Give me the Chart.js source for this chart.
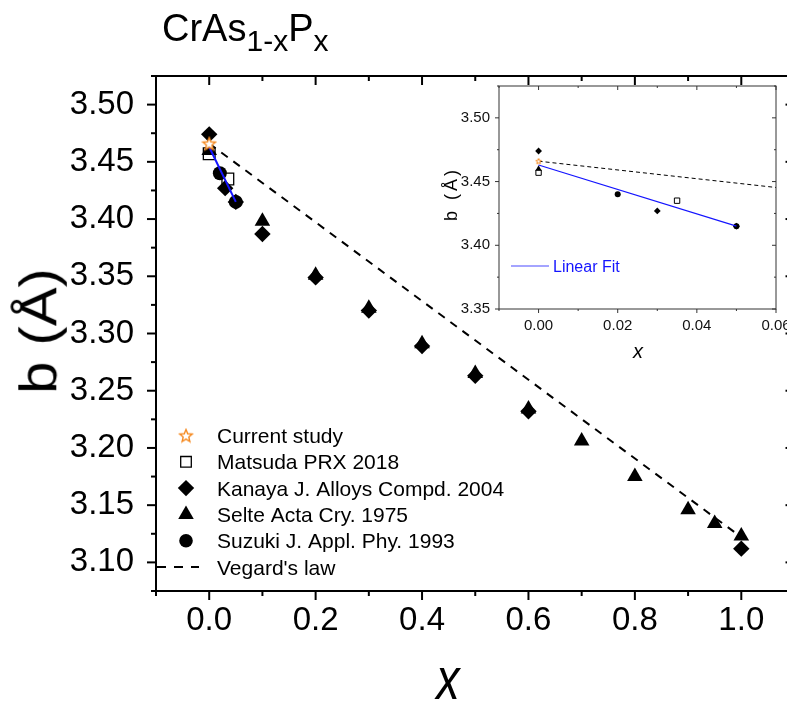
<!DOCTYPE html>
<html>
<head>
<meta charset="utf-8">
<script src="https://cdn.jsdelivr.net/npm/chart.js@4.4.0/dist/chart.umd.min.js"></script>
<style>
body { margin: 0; background: #fff; }
#wrap { position: relative; width: 787px; height: 706px; overflow: hidden; background: #fff; font-family: 'Liberation Sans', Arial, sans-serif; color: #000; }
#main { position: absolute; left: 0; top: 0; }
#insetBox { position: absolute; left: 430px; top: 75px; width: 357px; height: 295px; }
.lbl { position: absolute; white-space: nowrap; line-height: 1; }
#title { left: 162px; top: 9px; font-size: 38px; }
#title sub { font-size: 30px; vertical-align: -10px; line-height: 0; }
#xlab { left: 448px; top: 649px; transform: translateX(-50%) scaleX(0.78); font-size: 60px; font-style: italic; }
#ylab { left: 38px; top: 331px; transform: translate(-50%, -50%) rotate(-90deg) scale(1, 0.9); font-size: 58px; }
#ixlab { left: 638px; top: 341px; transform: translateX(-50%); font-size: 20px; font-style: italic; }
#iylab { left: 451px; top: 194px; transform: translate(-50%, -50%) rotate(-90deg); font-size: 18px; letter-spacing: 3px; }
</style>
</head>
<body>
<div id="wrap">
  <canvas id="main" width="800" height="706"></canvas>
  <div id="insetBox"><canvas id="inset" width="357" height="295"></canvas></div>
  <div class="lbl" id="title">CrAs<sub>1-x</sub>P<sub>x</sub></div>
  <div class="lbl" id="xlab">x</div>
  <div class="lbl" id="ylab">b (Å)</div>
  <div class="lbl" id="ixlab">x</div>
  <div class="lbl" id="iylab">b (Å)</div>
</div>
<script>
// data
var currentX = [0];
var currentY = [3.466];
var matsudaX = [0, 0.035];
var matsudaY = [3.457, 3.435];
var kanayaX = [0, 0.03, 0.05, 0.1, 0.2, 0.3, 0.4, 0.5, 0.6, 1.0];
var kanayaY = [3.474, 3.427, 3.415, 3.387, 3.349, 3.320, 3.289, 3.263, 3.232, 3.112];
var selteX = [0, 0.1, 0.2, 0.3, 0.4, 0.5, 0.6, 0.7, 0.8, 0.9, 0.95, 1.0];
var selteY = [3.460, 3.398, 3.351, 3.322, 3.291, 3.265, 3.234, 3.206, 3.175, 3.146, 3.134, 3.123];
var suzukiX = [0.02, 0.05];
var suzukiY = [3.440, 3.415];
var vegardX = [0, 1.0];
var vegardY = [3.466, 3.122];
var fitX = [0, 0.05];
var fitY = [3.463, 3.415];

var xTicks = [0, 0.2, 0.4, 0.6, 0.8, 1.0];
var yTicks = [3.10, 3.15, 3.20, 3.25, 3.30, 3.35, 3.40, 3.45, 3.50];
var insetXTicks = [0, 0.02, 0.04, 0.06];
var insetYTicks = [3.35, 3.40, 3.45, 3.50];

var legendLabels = ['Current study', 'Matsuda PRX 2018', 'Kanaya J. Alloys Compd. 2004',
    'Selte Acta Cry. 1975', 'Suzuki J. Appl. Phy. 1993', "Vegard's law"];

var sans = "'Liberation Sans', Arial, sans-serif";
var orange = '#f5891f';

function pts(xs, ys) {
    return xs.map(function(x, i) { return {x: x, y: ys[i]}; });
}

function starImage(size, lw) {
    var c = document.createElement('canvas');
    c.width = size; c.height = size;
    var g = c.getContext('2d');
    var cx = size / 2, cy = size / 2 + size * 0.04, R = size / 2 - lw, r = R * 0.45;
    g.beginPath();
    for (var i = 0; i < 10; i++) {
        var a = -Math.PI / 2 + i * Math.PI / 5;
        var rr = (i % 2) ? r : R;
        g.lineTo(cx + rr * Math.cos(a), cy + rr * Math.sin(a));
    }
    g.closePath();
    g.fillStyle = '#fff';
    g.fill();
    g.strokeStyle = orange;
    g.lineWidth = lw;
    g.stroke();
    return c;
}
var starBig = starImage(16, 1.4);
var starSmall = starImage(8, 1);

function midpoints(arr, lo, hi) {
    var step = arr[1] - arr[0], out = [];
    for (var v = arr[0] - step / 2; v <= hi + 1e-9; v += step) {
        if (v >= lo - 1e-9) out.push(v);
    }
    return out;
}

function frameTicks(opts) {
    return {
        id: 'frame',
        afterDraw: function(chart) {
            var ctx = chart.ctx, a = chart.chartArea;
            var xs = chart.scales.x, ys = chart.scales.y;
            ctx.save();
            ctx.strokeStyle = opts.color;
            ctx.lineWidth = opts.lw;
            ctx.strokeRect(a.left, a.top, a.right - a.left, a.bottom - a.top);
            function tick(x1, y1, x2, y2) {
                ctx.beginPath(); ctx.moveTo(x1, y1); ctx.lineTo(x2, y2); ctx.stroke();
            }
            opts.xMajor.forEach(function(v) {
                var p = xs.getPixelForValue(v);
                tick(p, a.bottom, p, a.bottom + opts.major);
                tick(p, a.top, p, a.top + opts.majorIn);
            });
            midpoints(opts.xMajor, xs.min, xs.max).forEach(function(v) {
                var p = xs.getPixelForValue(v);
                tick(p, a.bottom, p, a.bottom + opts.minor);
                tick(p, a.top, p, a.top + opts.minorIn);
            });
            opts.yMajor.forEach(function(v) {
                var p = ys.getPixelForValue(v);
                tick(a.left, p, a.left - opts.major, p);
                tick(a.right, p, a.right - opts.majorIn, p);
            });
            midpoints(opts.yMajor, ys.min, ys.max).forEach(function(v) {
                var p = ys.getPixelForValue(v);
                tick(a.left, p, a.left - opts.minor, p);
                tick(a.right, p, a.right - opts.minorIn, p);
            });
            ctx.restore();
        }
    };
}

var mainLegend = {
    id: 'mainLegend',
    afterDraw: function(chart) {
        var ctx = chart.ctx;
        var styles = [
            {style: starBig, r: 8},
            {style: 'rect', r: 7.5, fill: '#fff', bw: 1.3},
            {style: 'rectRot', r: 8.2, fill: '#000', bw: 0},
            {style: 'triangle', r: 9, fill: '#000', bw: 0},
            {style: 'circle', r: 6.8, fill: '#000', bw: 0},
            null
        ];
        ctx.save();
        ctx.font = '21px ' + sans;
        ctx.textBaseline = 'alphabetic';
        legendLabels.forEach(function(label, i) {
            var y = 435.5 + i * 26.3;
            var s = styles[i];
            if (s) {
                ctx.fillStyle = s.fill || '#000';
                ctx.strokeStyle = '#000';
                ctx.lineWidth = s.bw || 0;
                Chart.helpers.drawPoint(ctx, {pointStyle: s.style, radius: s.r, borderWidth: s.bw || 0, rotation: 0}, 186, y);
            } else {
                ctx.strokeStyle = '#000';
                ctx.lineWidth = 2;
                ctx.setLineDash([9, 8]);
                ctx.beginPath(); ctx.moveTo(157, y); ctx.lineTo(199, y); ctx.stroke();
                ctx.setLineDash([]);
            }
            ctx.fillStyle = '#000';
            ctx.fillText(label, 217, y + 7.5);
        });
        ctx.restore();
    }
};

function makeDatasets(big) {
    return [
        {label: 'Current study', data: pts(currentX, currentY), pointStyle: big ? starBig : starSmall,
            pointRadius: big ? 8 : 3, order: 0},
        {label: 'Linear Fit', data: pts(fitX, fitY), showLine: true, borderColor: '#1414ff',
            borderWidth: big ? 2 : 1.2, pointRadius: 0, order: 1},
        {label: "Vegard's law", data: pts(vegardX, vegardY), showLine: true, borderColor: '#000',
            borderWidth: big ? 2 : 1, borderDash: big ? [8, 7] : [4, 3], pointRadius: 0, order: 2},
        {label: 'Suzuki', data: pts(suzukiX, suzukiY), pointStyle: 'circle', pointRadius: big ? 7 : 3,
            backgroundColor: '#000', borderColor: '#000', borderWidth: 0, order: 3},
        {label: 'Kanaya', data: pts(kanayaX, kanayaY), pointStyle: 'rectRot', pointRadius: big ? 8.2 : 3.4,
            backgroundColor: '#000', borderColor: '#000', borderWidth: 0, order: 4},
        {label: 'Selte', data: pts(selteX, selteY), pointStyle: 'triangle', pointRadius: big ? 9 : 3.6,
            backgroundColor: '#000', borderColor: '#000', borderWidth: 0, order: 5},
        {label: 'Matsuda', data: pts(matsudaX, matsudaY), pointStyle: 'rect', pointRadius: big ? 8.3 : 3.8,
            backgroundColor: '#fff', borderColor: '#000', borderWidth: big ? 1.3 : 1, order: 6}
    ];
}

Chart.defaults.font.family = sans;
Chart.defaults.color = '#000';

function noPad(s) {
    s.paddingLeft = 0; s.paddingRight = 0; s.paddingTop = 0; s.paddingBottom = 0;
}

new Chart(document.getElementById('main'), {
    type: 'scatter',
    data: {datasets: makeDatasets(true)},
    options: {
        responsive: false,
        animation: false,
        events: [],
        layout: {autoPadding: false, padding: {top: 76, right: 5.5, left: 0, bottom: 0}},
        plugins: {legend: {display: false}, tooltip: {enabled: false}},
        scales: {
            x: {
                type: 'linear', min: -0.1, max: 1.1,
                afterBuildTicks: function(s) { s.ticks = xTicks.map(function(v) { return {value: v}; }); },
                afterFit: function(s) { s.height = 115; noPad(s); },
                grid: {display: false, drawTicks: false},
                border: {display: false},
                ticks: {font: {size: 33, family: sans}, padding: 10, maxRotation: 0,
                    callback: function(v) { return v.toFixed(1); }}
            },
            y: {
                type: 'linear', min: 3.075, max: 3.525,
                afterBuildTicks: function(s) { s.ticks = yTicks.map(function(v) { return {value: v}; }); },
                afterFit: function(s) { s.width = 156; noPad(s); },
                grid: {display: false, drawTicks: false},
                border: {display: false},
                ticks: {font: {size: 33, family: sans}, padding: 22,
                    callback: function(v) { return v.toFixed(2); }}
            }
        }
    },
    plugins: [frameTicks({color: '#000', lw: 2, xMajor: xTicks, yMajor: yTicks,
        major: 9, minor: 5, majorIn: 9, minorIn: 5}), mainLegend]
});

var insetLegend = {
    id: 'insetLegend',
    afterDraw: function(chart) {
        var ctx = chart.ctx;
        ctx.save();
        ctx.strokeStyle = '#4a4aff';
        ctx.lineWidth = 1.2;
        ctx.beginPath(); ctx.moveTo(81, 191); ctx.lineTo(119, 191); ctx.stroke();
        ctx.fillStyle = '#1414ff';
        ctx.font = '16px ' + sans;
        ctx.fillText('Linear Fit', 123, 197);
        ctx.restore();
    }
};

new Chart(document.getElementById('inset'), {
    type: 'scatter',
    data: {datasets: makeDatasets(false)},
    options: {
        responsive: false,
        animation: false,
        events: [],
        layout: {autoPadding: false, padding: {top: 11, right: 11, left: 0, bottom: 0}},
        plugins: {legend: {display: false}, tooltip: {enabled: false}},
        scales: {
            x: {
                type: 'linear', min: -0.01, max: 0.06,
                afterBuildTicks: function(s) { s.ticks = insetXTicks.map(function(v) { return {value: v}; }); },
                afterFit: function(s) { s.height = 61; noPad(s); },
                grid: {display: false, drawTicks: false},
                border: {display: false},
                ticks: {font: {size: 15}, padding: 8, maxRotation: 0, color: '#111',
                    callback: function(v) { return v.toFixed(2); }}
            },
            y: {
                type: 'linear', min: 3.35, max: 3.525,
                afterBuildTicks: function(s) { s.ticks = insetYTicks.map(function(v) { return {value: v}; }); },
                afterFit: function(s) { s.width = 69; noPad(s); },
                grid: {display: false, drawTicks: false},
                border: {display: false},
                ticks: {font: {size: 15}, padding: 9, color: '#111',
                    callback: function(v) { return v.toFixed(2); }}
            }
        }
    },
    plugins: [frameTicks({color: '#333', lw: 1, xMajor: insetXTicks, yMajor: insetYTicks,
        major: 4, minor: 2, majorIn: 4, minorIn: 2}), insetLegend]
});
</script>
</body>
</html>
